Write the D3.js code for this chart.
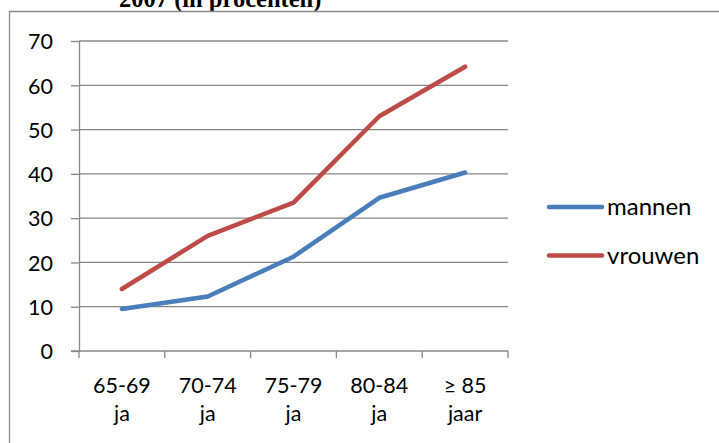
<!DOCTYPE html>
<html>
<head>
<meta charset="utf-8">
<script src="https://cdn.jsdelivr.net/npm/d3@7"></script>
<style>
  html, body { margin: 0; padding: 0; background: #fff; }
  svg { display: block; }
  text { font-family: Lato, "Open Sans", sans-serif; fill: #000; }
</style>
</head>
<body>
<script>
// Age groups (two-line labels) and percentages per sex
const categories = ["65-69 ja", "70-74 ja", "75-79 ja", "80-84 ja", "≥ 85 jaar"];
const categoryLines = [["65-69", "ja"], ["70-74", "ja"], ["75-79", "ja"], ["80-84", "ja"], ["≥ 85", "jaar"]];
const mannen = [9.5, 12.3, 21.3, 34.6, 40.3];
const vrouwen = [14.0, 26.0, 33.5, 53.0, 64.2];
const yTicks = [0, 10, 20, 30, 40, 50, 60, 70];
const seriesNames = ["mannen", "vrouwen"];
const seriesColors = ["#4A7EBB", "#BE4B48"];

const W = 719, H = 443;
const plot = { left: 79, right: 508, top: 41, bottom: 351 };
const gridColor = "#878787";

const svg = d3.select("body").append("svg")
  .attr("width", W).attr("height", H);

// Heading of the figure, running off the page top
svg.append("text")
  .attr("x", 119).attr("y", 7)
  .style("font-family", "'Liberation Serif', 'Times New Roman', serif")
  .style("font-weight", "bold")
  .style("font-size", "24.5px")
  .text("2007 (in procenten)");

// Chart area frame (top and left edges)
svg.append("path")
  .attr("d", `M9.5,${H} V11.5 H${W}`)
  .attr("fill", "none")
  .attr("stroke", "#8a8a8a")
  .attr("stroke-width", 1.3);

const x = d3.scaleBand().domain(categories).range([plot.left, plot.right]).padding(0);
const y = d3.scaleLinear().domain([0, 70]).range([plot.bottom, plot.top]);

// Horizontal gridlines
svg.append("g")
  .selectAll("line")
  .data(yTicks.filter(d => d > 0))
  .join("line")
  .attr("x1", plot.left).attr("x2", plot.right)
  .attr("y1", d => y(d)).attr("y2", d => y(d))
  .attr("stroke", gridColor).attr("stroke-width", 1.3);

// Y axis
const yAxis = svg.append("g")
  .attr("transform", `translate(${plot.left},0)`)
  .call(d3.axisLeft(y).tickValues(yTicks).tickSize(8).tickPadding(18).tickSizeOuter(0));
yAxis.select(".domain").attr("stroke", gridColor).attr("stroke-width", 1.3);
yAxis.selectAll(".tick line").attr("stroke", gridColor).attr("stroke-width", 1.3);
yAxis.selectAll(".tick text")
  .style("font-family", "Lato, sans-serif")
  .style("font-size", "21.5px")
  .attr("dy", "0.36em");

// X axis: ticks on category boundaries
const xAxisG = svg.append("g").attr("transform", `translate(0,${plot.bottom})`);
xAxisG.append("line")
  .attr("x1", plot.left - 8).attr("x2", plot.right)
  .attr("stroke", gridColor).attr("stroke-width", 1.3);
const boundaries = categories.map(c => x(c)).concat([x(categories[categories.length - 1]) + x.bandwidth()]);
xAxisG.selectAll("line.tk")
  .data(boundaries)
  .join("line")
  .attr("class", "tk")
  .attr("x1", d => d).attr("x2", d => d)
  .attr("y1", 0).attr("y2", 7)
  .attr("stroke", gridColor).attr("stroke-width", 1.3);

const labels = xAxisG.selectAll("text.cat")
  .data(categories)
  .join("text")
  .attr("class", "cat")
  .attr("text-anchor", "middle")
  .attr("x", d => x(d) + x.bandwidth() / 2)
  .style("font-size", "21.5px");
labels.selectAll("tspan")
  .data((d, i) => categoryLines[i])
  .join("tspan")
  .attr("x", function () { return d3.select(this.parentNode).attr("x"); })
  .attr("y", (d, i) => 42 + i * 28)
  .text(d => d);

// Series lines
const line = d3.line()
  .x((d, i) => x(categories[i]) + x.bandwidth() / 2)
  .y(d => y(d));

[mannen, vrouwen].forEach((vals, i) => {
  svg.append("path")
    .datum(vals)
    .attr("d", line)
    .attr("fill", "none")
    .attr("stroke", seriesColors[i])
    .attr("stroke-width", 4.5)
    .attr("stroke-linejoin", "round")
    .attr("stroke-linecap", "round");
});

// Legend
const legend = svg.append("g");
seriesNames.forEach((name, i) => {
  const ly = 207 + i * 48.5;
  legend.append("line")
    .attr("x1", 549).attr("x2", 602)
    .attr("y1", ly).attr("y2", ly)
    .attr("stroke", seriesColors[i])
    .attr("stroke-width", 4.5)
    .attr("stroke-linecap", "round");
  legend.append("text")
    .attr("x", 607).attr("y", ly)
    .attr("dy", "0.35em")
    .style("font-size", "24px")
    .text(name);
});
</script>
</body>
</html>
